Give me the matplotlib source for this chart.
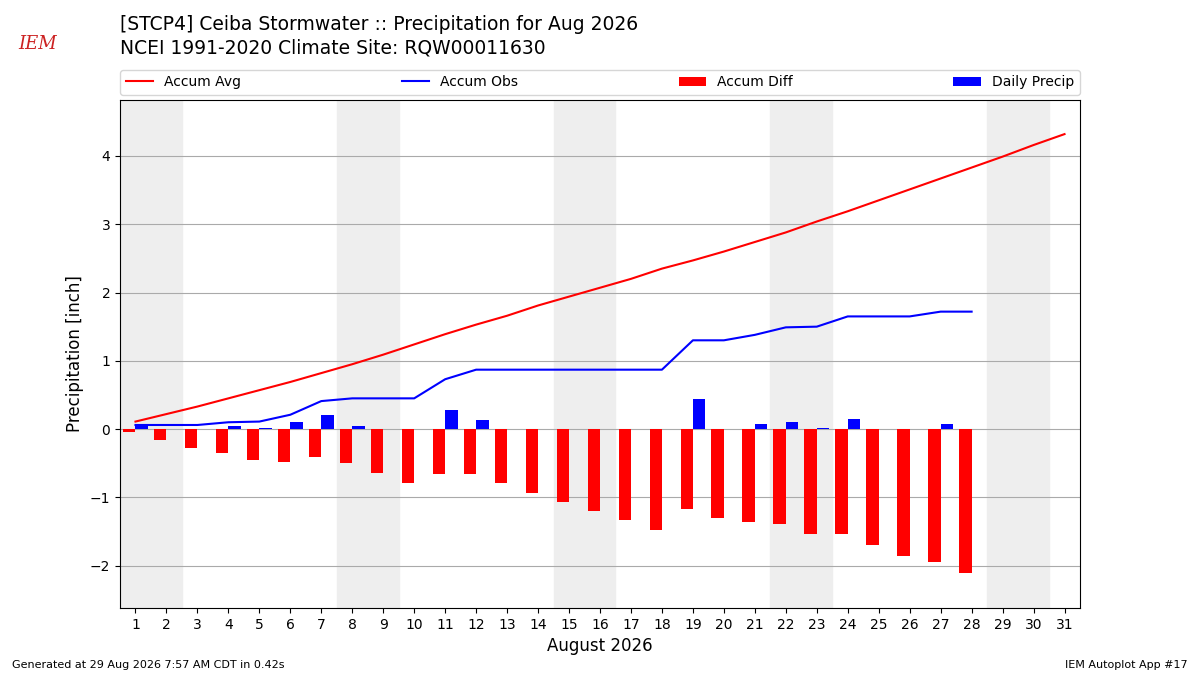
import matplotlib
matplotlib.use("Agg")
import matplotlib.pyplot as plt
import numpy as np

# August 2026 daily data (inches)
days = list(range(1, 32))
accum_avg = [0.11, 0.22, 0.33, 0.45, 0.57, 0.69, 0.82, 0.95, 1.09, 1.24,
             1.39, 1.53, 1.66, 1.81, 1.94, 2.07, 2.20, 2.35, 2.47, 2.60,
             2.74, 2.88, 3.04, 3.19, 3.35, 3.51, 3.67, 3.83, 3.99, 4.16, 4.32]
obs_days = list(range(1, 29))
accum_obs = [0.06, 0.06, 0.06, 0.10, 0.11, 0.21, 0.41, 0.45, 0.45, 0.45,
             0.73, 0.87, 0.87, 0.87, 0.87, 0.87, 0.87, 0.87, 1.30, 1.30,
             1.38, 1.49, 1.50, 1.65, 1.65, 1.65, 1.72, 1.72]
accum_diff = [-0.05, -0.16, -0.27, -0.35, -0.46, -0.48, -0.41, -0.50, -0.64, -0.79,
              -0.66, -0.66, -0.79, -0.94, -1.07, -1.20, -1.33, -1.48, -1.17, -1.30,
              -1.36, -1.39, -1.54, -1.54, -1.70, -1.86, -1.95, -2.11]
daily_precip = [0.06, 0.0, 0.0, 0.04, 0.01, 0.10, 0.20, 0.04, 0.0, 0.0,
                0.28, 0.14, 0.0, 0.0, 0.0, 0.0, 0.0, 0.0, 0.44, 0.0,
                0.08, 0.11, 0.01, 0.15, 0.0, 0.0, 0.07, 0.0]
weekends = [1, 8, 15, 22, 29]  # saturdays

fig = plt.figure(figsize=(12, 6.75), dpi=100)
ax = fig.add_axes([0.1, 0.0993, 0.8, 0.7526])

for d in weekends:
    ax.axvspan(d - 0.5, d + 1.5, color="#eeeeee", zorder=0)

ax.plot(days, accum_avg, color="r", label="Accum Avg", zorder=3)
ax.plot(obs_days, accum_obs, color="b", label="Accum Obs", zorder=3)
ax.bar(obs_days, accum_diff, width=-0.4, align="edge", color="r", label="Accum Diff", zorder=2)
ax.bar(obs_days, daily_precip, width=0.4, align="edge", color="b", label="Daily Precip", zorder=2)

ax.set_xlim(0.5, 31.5)
ax.set_ylim(-2.62, 4.82)
ax.set_xticks(days)
ax.set_yticks(range(-2, 5))
ax.grid(True, axis="y", color="#aaaaaa", zorder=1)
ax.set_axisbelow(True)
ax.set_xlabel("August 2026", fontsize=12)
ax.set_ylabel("Precipitation [inch]", fontsize=12)

ax.legend(loc="lower left", bbox_to_anchor=(0, 1.01, 1, 0.05), ncol=4,
          mode="expand", borderaxespad=0, fontsize=10)

fig.text(0.1, 1 - 24 / 675, "[STCP4] Ceiba Stormwater :: Precipitation for Aug 2026",
         fontsize=13.5, va="center")
fig.text(0.1, 1 - 48 / 675, "NCEI 1991-2020 Climate Site: RQW00011630",
         fontsize=13.5, va="center")

# stand-in for the IEM logo
fig.text(0.031, 1 - 44 / 675, "IEM", color="#cc2222", fontsize=13, family="DejaVu Serif",
         style="italic", ha="center", va="center")

fig.text(0.01, 0.01, "Generated at 29 Aug 2026 7:57 AM CDT in 0.42s", fontsize=8)
fig.text(0.99, 0.01, "IEM Autoplot App #17", fontsize=8, ha="right")

fig.savefig("out.png", dpi=100)
